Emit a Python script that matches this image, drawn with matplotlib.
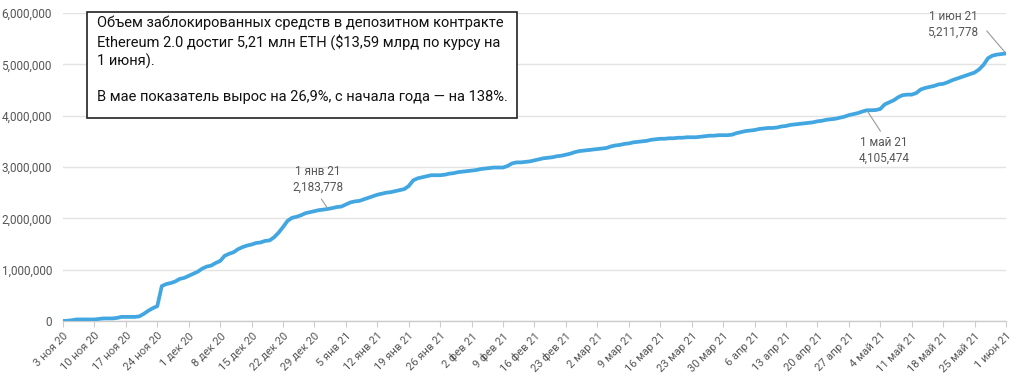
import matplotlib
matplotlib.use("Agg")
import matplotlib.pyplot as plt
import matplotlib.patches as mpatches
from matplotlib.ticker import FuncFormatter
import numpy as np
import pandas as pd

plt.rcParams['font.family'] = ['Roboto', 'DejaVu Sans']

# ---- data (ETH locked in Eth2 deposit contract, millions ETH, daily) ----
start_date = "2020-11-03"
end_date = "2021-06-01"

locked_mln = [
    # 3 Nov .. 13 Jan
    0.0, 0.005, 0.015, 0.03, 0.03, 0.03, 0.03, 0.03, 0.04, 0.05,
    0.05, 0.05, 0.06, 0.08, 0.08, 0.08, 0.08, 0.09, 0.14, 0.20,
    0.25, 0.29, 0.68, 0.72, 0.74, 0.77, 0.82, 0.84, 0.88, 0.92,
    0.96, 1.02, 1.06, 1.08, 1.13, 1.17, 1.27, 1.31, 1.34, 1.40,
    1.44, 1.47, 1.49, 1.52, 1.53, 1.56, 1.57, 1.63, 1.72, 1.83,
    1.95, 2.01, 2.03, 2.06, 2.10, 2.12, 2.14, 2.16, 2.17, 2.183778,
    2.20, 2.22, 2.23, 2.27, 2.31, 2.33, 2.34, 2.37, 2.40, 2.43,
    2.46, 2.48,
    # 14 Jan ..
    2.50, 2.51, 2.53, 2.55, 2.57, 2.63, 2.74, 2.78, 2.80, 2.82,
    2.84, 2.84, 2.84, 2.85, 2.87, 2.88, 2.90, 2.91, 2.92, 2.93,
    2.94, 2.96, 2.97, 2.98, 2.99, 2.99, 2.99, 3.02, 3.07, 3.09,
    3.09, 3.10, 3.11, 3.13, 3.15, 3.17, 3.18, 3.19, 3.21, 3.22,
    3.24, 3.26, 3.29, 3.31, 3.32, 3.33, 3.34, 3.35, 3.36, 3.37,
    3.40, 3.42, 3.43, 3.45, 3.46, 3.48, 3.49, 3.50, 3.51, 3.53,
    3.54, 3.55, 3.55, 3.56, 3.56, 3.57, 3.57, 3.58, 3.58, 3.58,
    3.59, 3.60, 3.61, 3.61, 3.62, 3.62, 3.62, 3.63, 3.66, 3.68,
    3.70, 3.71, 3.72, 3.74, 3.75, 3.76, 3.76, 3.77, 3.79, 3.80,
    3.82, 3.83, 3.84, 3.85, 3.86, 3.87, 3.89, 3.90, 3.92, 3.93,
    3.94, 3.96, 3.98, 4.01, 4.03, 4.05, 4.08, 4.105474, 4.105474, 4.11,
    4.13, 4.22, 4.26, 4.30, 4.36, 4.40, 4.41, 4.41, 4.44, 4.51,
    4.54, 4.56, 4.58, 4.61, 4.62, 4.65, 4.69, 4.72, 4.75, 4.78,
    4.81, 4.84, 4.90, 4.99, 5.12, 5.17, 5.19, 5.20, 5.211778,
]

tick_labels = [
    "3 ноя 20", "10 ноя 20", "17 ноя 20", "24 ноя 20", "1 дек 20", "8 дек 20",
    "15 дек 20", "22 дек 20", "29 дек 20", "5 янв 21", "12 янв 21", "19 янв 21",
    "26 янв 21", "2 фев 21", "9 фев 21", "16 фев 21", "23 фев 21", "2 мар 21",
    "9 мар 21", "16 мар 21", "23 мар 21", "30 мар 21", "6 апр 21", "13 апр 21",
    "20 апр 21", "27 апр 21", "4 май 21", "11 май 21", "18 май 21", "25 май 21",
    "1 июн 21",
]

annot_dates = ["2021-01-01", "2021-05-01", "2021-06-01"]
annot_names = ["1 янв 21", "1 май 21", "1 июн 21"]

box_text = ("Объем заблокированных средств в депозитном контракте\n"
            "Ethereum 2.0 достиг 5,21 млн ETH ($13,59 млрд по курсу на\n"
            "1 июня).\n\n"
            "В мае показатель вырос на 26,9%, с начала года — на 138%.")

dates = pd.date_range(start_date, end_date, freq="D")
values = np.round(np.array(locked_mln) * 1e6)
assert len(values) == len(dates), (len(values), len(dates))
series = pd.Series(values, index=dates)

# ---- figure ----
W, H = 1024, 376
fig = plt.figure(figsize=(W / 100, H / 100), dpi=100)
ax = fig.add_axes([63 / W, 1 - 321 / H, (1006 - 63) / W, (321 - 13) / H])

line_color = "#42a6e1"
ax.plot(series.index, series.values, color=line_color, lw=2.7,
        solid_joinstyle="round", solid_capstyle="round", zorder=3)

ax.set_xlim(dates[0], dates[-1])
ax.set_ylim(0, 6_000_000)
ax.set_yticks(np.arange(0, 6_000_001, 1_000_000))
ax.yaxis.set_major_formatter(FuncFormatter(lambda v, p: f"{int(v):,}"))
ax.grid(axis="y", color="#e3e3e3", lw=1.0, zorder=0)
ax.grid(axis="x", visible=False)

tick_pos = dates[::7]
ax.set_xticks(tick_pos)
ax.set_xticklabels(tick_labels, rotation=45, ha="right", va="top",
                   rotation_mode="anchor", fontsize=8, color="#555555")
ax.tick_params(axis="x", length=4, color="#cccccc", pad=3)
ax.tick_params(axis="y", length=0, labelsize=8.5, labelcolor="#555555", pad=8)

for s in ["left", "right", "top"]:
    ax.spines[s].set_visible(False)
ax.spines["bottom"].set_color("#cccccc")
ax.spines["bottom"].set_linewidth(1.0)

# ---- annotations ----
px = 0.72  # points per pixel at dpi 100
ann_cfg = [
    dict(off=(-10, 15), ha="center", va="bottom", relpos=(0.5, 0.0), sa=2),
    dict(off=(17, -26), ha="center", va="top", relpos=(0.5, 1.0), sa=2),
    dict(off=(-53, 43), ha="center", va="top", relpos=(1.0, 0.62), sa=6),
]
for d, name, cfg in zip(annot_dates, annot_names, ann_cfg):
    v = series[pd.Timestamp(d)]
    ax.annotate(f"{name}\n{int(v):,}", xy=(pd.Timestamp(d), v),
                xytext=(cfg["off"][0] * px, cfg["off"][1] * px),
                textcoords="offset points", ha=cfg["ha"], va=cfg["va"],
                fontsize=8.5, color="#555555", linespacing=1.25,
                annotation_clip=False, zorder=5,
                arrowprops=dict(arrowstyle="-", color="#999999", lw=0.8,
                                relpos=cfg["relpos"], shrinkA=cfg["sa"],
                                shrinkB=1))

# ---- text box ----
rect = mpatches.Rectangle((87 / W, 1 - 118 / H), 430 / W, 106 / H,
                          transform=fig.transFigure, facecolor="white",
                          edgecolor="#222222", lw=1.2, zorder=10)
fig.patches.append(rect)
fig.text(97 / W, 1 - 16 / H, box_text, ha="left", va="top", fontsize=10.5,
         color="#111111", linespacing=1.3, zorder=11)

fig.savefig("out.png", dpi=100)
